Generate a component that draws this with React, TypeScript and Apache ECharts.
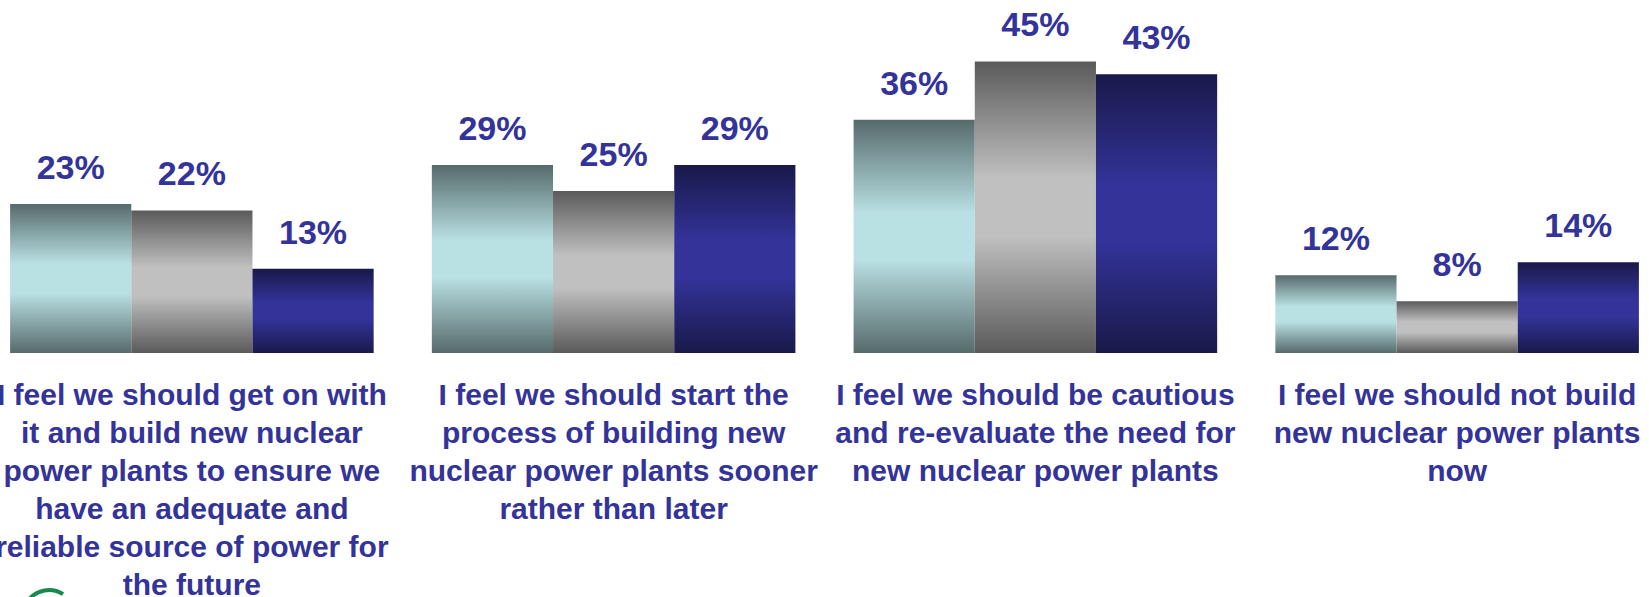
import React, { useEffect, useRef } from "react";
import * as echarts from "echarts";

const categories: string[] = [
  "I feel we should get on with\nit and build new nuclear\npower plants to ensure we\nhave an adequate and\nreliable source of power for\nthe future",
  "I feel we should start the\nprocess of building new\nnuclear power plants sooner\nrather than later",
  "I feel we should be cautious\nand re-evaluate the need for\nnew nuclear power plants",
  "I feel we should not build\nnew nuclear power plants\nnow",
];

const seriesNames: string[] = ["Survey 1", "Survey 2", "Survey 3"];
const series1: number[] = [23, 29, 36, 12];
const series2: number[] = [22, 25, 45, 8];
const series3: number[] = [13, 29, 43, 14];

const darkColors = ["#566a6b", "#5a5a5a", "#19194a"];
const lightColors = ["#b9e0e3", "#c0c0c0", "#333399"];

function grad(i: number) {
  return new echarts.graphic.LinearGradient(0, 0, 0, 1, [
    { offset: 0, color: darkColors[i] },
    { offset: 0.4, color: lightColors[i] },
    { offset: 0.6, color: lightColors[i] },
    { offset: 1, color: darkColors[i] },
  ]);
}

export default function App() {
  const ref = useRef<HTMLDivElement>(null);
  useEffect(() => {
    if (!ref.current) return;
    const chart = echarts.init(ref.current, undefined, { renderer: "svg" });
    const data = [series1, series2, series3];
    chart.setOption({
      animation: false,
      grid: {
        left: 0,
        right: 0,
        top: 29,
        bottom: 244,
        containLabel: false,
        outerBoundsMode: "none",
      },
      xAxis: {
        type: "category",
        data: categories,
        axisLine: { show: false },
        axisTick: { show: false },
        axisLabel: {
          interval: 0,
          margin: 22,
          fontSize: 30,
          lineHeight: 38,
          fontWeight: "bold",
          fontFamily: "Liberation Sans, Arial, sans-serif",
          color: "#333399",
        },
      },
      yAxis: {
        type: "value",
        min: 0,
        max: 50,
        show: false,
        splitLine: { show: false },
      },
      series: data.map((d, i) => ({
        name: seriesNames[i],
        type: "bar",
        data: d,
        barGap: "0%",
        barCategoryGap: "13.8%",
        itemStyle: { color: grad(i) },
        label: {
          show: true,
          position: "top",
          distance: 20,
          formatter: "{c}%",
          fontSize: 34,
          fontWeight: "bold",
          fontFamily: "Liberation Sans, Arial, sans-serif",
          color: "#333399",
        },
      })),
      graphic: [
        {
          type: "arc",
          shape: { cx: 68, cy: 616, r: 26, startAngle: -2.5, endAngle: -1.0 },
          style: { stroke: "#178a4e", lineWidth: 4, fill: "none" },
        },
      ],
    });
    return () => chart.dispose();
  }, []);
  return (
    <div
      style={{
        position: "fixed",
        left: 0,
        top: 0,
        width: 1649,
        height: 597,
        overflow: "hidden",
        background: "#fff",
      }}
    >
      <div
        ref={ref}
        style={{ position: "absolute", left: -19, top: 0, width: 1687, height: 597 }}
      />
    </div>
  );
}
